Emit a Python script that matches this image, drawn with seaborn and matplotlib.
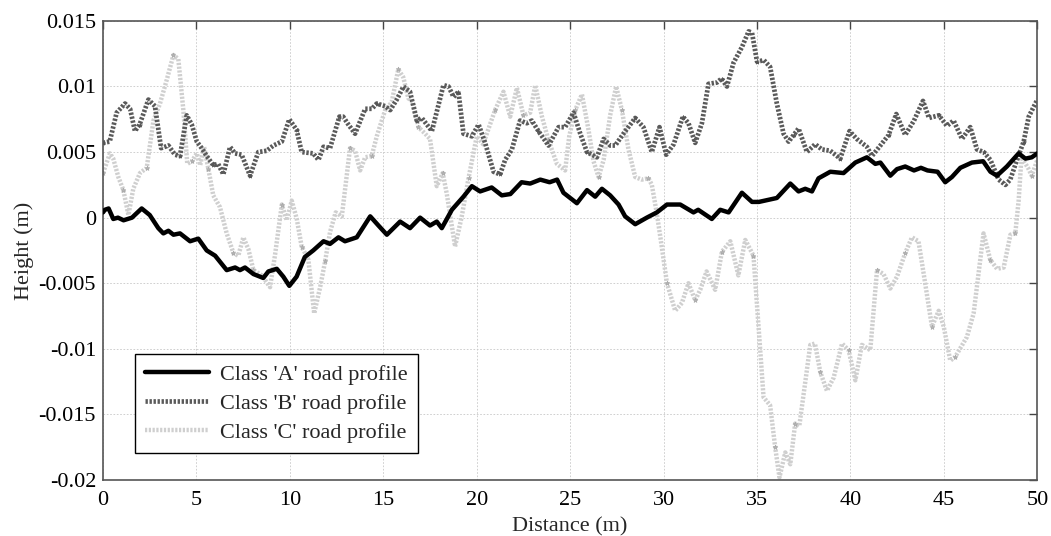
import numpy as np
import pandas as pd
import seaborn as sns
from matplotlib import pyplot as plt
from matplotlib.ticker import FuncFormatter

# road profile traces (distance in m, height in m)
a_x = [0, 0.1, 0.3, 0.55, 0.8, 1.1, 1.55, 2.07, 2.5, 2.96,
       3.23, 3.5, 3.77, 4.12, 4.66, 5.1, 5.55, 6.0, 6.62, 7.07,
       7.33, 7.6, 8.05, 8.58, 8.85, 9.3, 9.65, 9.97, 10.36, 10.8,
       11.25, 11.8, 12.15, 12.6, 12.95, 13.58, 14.3, 14.74, 15.19, 15.9,
       16.43, 16.97, 17.5, 17.86, 18.13, 18.67, 19.29, 19.74, 20.18, 20.8,
       21.34, 21.8, 22.4, 22.86, 23.4, 23.9, 24.3, 24.64, 25.0, 25.36,
       25.9, 26.34, 26.7, 27.14, 27.59, 27.94, 28.48, 29.1, 29.64, 30.18,
       30.89, 31.6, 31.85, 32.58, 33.03, 33.48, 34.19, 34.73, 35.1, 36.06,
       36.78, 37.22, 37.58, 37.94, 38.29, 38.92, 39.63, 40.26, 40.88, 41.33,
       41.6, 42.13, 42.49, 42.93, 43.4, 43.77, 44.12, 44.66, 45.07, 45.43,
       45.88, 46.5, 47.1, 47.49, 47.84, 48.37, 49.0, 49.36, 49.7, 50.0]
a_y = [0.0004, 0.0006, 0.0007, -0.0001, 0.0000, -0.0002, 0.0000, 0.0007, 0.0002, -0.0008,
       -0.0012, -0.0010, -0.0013, -0.0012, -0.0018, -0.0016, -0.0025, -0.0029, -0.0040, -0.0038,
       -0.0040, -0.0038, -0.0043, -0.0046, -0.0041, -0.0039, -0.0045, -0.0052, -0.0045, -0.0030,
       -0.0025, -0.0018, -0.0020, -0.0015, -0.0018, -0.0015, 0.0001, -0.0006, -0.0013, -0.0003,
       -0.0008, 0.0000, -0.0006, -0.0003, -0.0008, 0.0006, 0.0016, 0.0024, 0.0020, 0.0023,
       0.0017, 0.0018, 0.0027, 0.0026, 0.0029, 0.0027, 0.0029, 0.0019, 0.0015, 0.0011,
       0.0021, 0.0016, 0.0022, 0.0017, 0.0010, 0.0001, -0.0005, 0.0000, 0.0004, 0.0010,
       0.0010, 0.0004, 0.0006, -0.0001, 0.0006, 0.0004, 0.0019, 0.0012, 0.0012, 0.0015,
       0.0026, 0.0020, 0.0022, 0.0020, 0.0030, 0.0035, 0.0034, 0.0042, 0.0046, 0.0041,
       0.0042, 0.0032, 0.0037, 0.0039, 0.0036, 0.0038, 0.0036, 0.0035, 0.0027, 0.0031,
       0.0038, 0.0042, 0.0043, 0.0035, 0.0032, 0.0039, 0.0049, 0.0045, 0.0046, 0.0049]

b_x = [0, 0.36, 0.73, 1.18, 1.45, 1.71, 1.96, 2.43, 2.78, 3.11,
       3.5, 3.85, 4.12, 4.48, 4.75, 5.02, 5.28, 5.55, 5.9, 6.16,
       6.44, 6.8, 7.06, 7.42, 7.87, 8.31, 8.76, 9.12, 9.57, 9.97,
       10.36, 10.63, 11.25, 11.53, 11.8, 12.15, 12.65, 12.85, 13.13, 13.49,
       14.03, 14.39, 14.65, 15.1, 15.37, 15.72, 16.08, 16.43, 16.79, 17.06,
       17.6, 18.22, 18.49, 18.76, 19.02, 19.29, 19.74, 20.1, 20.45, 20.9,
       21.25, 21.52, 21.88, 22.32, 22.68, 22.95, 23.3, 23.84, 24.38, 24.73,
       25.18, 25.54, 25.9, 26.43, 26.79, 27.14, 27.41, 27.85, 28.48, 28.92,
       29.37, 29.78, 30.14, 30.54, 31.03, 31.33, 31.69, 32.05, 32.4, 32.85,
       33.1, 33.39, 33.74, 34.19, 34.55, 34.73, 35.0, 35.37, 35.7, 36.06,
       36.42, 36.69, 36.96, 37.22, 37.67, 38.11, 38.47, 38.92, 39.45, 39.95,
       40.34, 40.88, 41.15, 41.6, 42.04, 42.45, 42.93, 43.4, 43.88, 44.2,
       44.73, 45.16, 45.52, 45.97, 46.41, 46.77, 47.13, 47.49, 47.93, 48.29,
       48.55, 48.91, 49.27, 49.54, 50.0]
b_y = [0.0057, 0.0058, 0.0080, 0.0087, 0.0083, 0.0066, 0.0071, 0.0090, 0.0085, 0.0053,
       0.0055, 0.0048, 0.0047, 0.0078, 0.0071, 0.0058, 0.0053, 0.0047, 0.0040, 0.0041,
       0.0033, 0.0054, 0.0049, 0.0048, 0.0032, 0.0050, 0.0051, 0.0055, 0.0058, 0.0075,
       0.0067, 0.0050, 0.0049, 0.0044, 0.0054, 0.0053, 0.0077, 0.0077, 0.0071, 0.0064,
       0.0083, 0.0083, 0.0087, 0.0085, 0.0082, 0.0090, 0.0100, 0.0096, 0.0074, 0.0076,
       0.0066, 0.0101, 0.0100, 0.0092, 0.0096, 0.0064, 0.0062, 0.0071, 0.0057, 0.0035,
       0.0033, 0.0044, 0.0052, 0.0074, 0.0072, 0.0074, 0.0066, 0.0055, 0.0069, 0.0069,
       0.0080, 0.0064, 0.0050, 0.0046, 0.0060, 0.0055, 0.0055, 0.0064, 0.0076, 0.0069,
       0.0050, 0.0069, 0.0048, 0.0056, 0.0077, 0.0072, 0.0057, 0.0072, 0.0102, 0.0103,
       0.0106, 0.0100, 0.0118, 0.0130, 0.0142, 0.0141, 0.0119, 0.0120, 0.0115, 0.0087,
       0.0064, 0.0058, 0.0063, 0.0068, 0.0050, 0.0056, 0.0052, 0.0051, 0.0045, 0.0066,
       0.0060, 0.0054, 0.0047, 0.0055, 0.0063, 0.0079, 0.0063, 0.0074, 0.0089, 0.0076,
       0.0078, 0.0070, 0.0074, 0.0060, 0.0069, 0.0052, 0.0050, 0.0044, 0.0029, 0.0025,
       0.0029, 0.0044, 0.0058, 0.0077, 0.0090]

c_x = [0, 0.37, 0.55, 0.82, 1.09, 1.36, 1.62, 1.98, 2.34, 2.7,
       3.05, 3.41, 3.77, 4.03, 4.3, 4.51, 4.75, 5.02, 5.2, 5.41,
       5.64, 5.9, 6.26, 6.62, 6.98, 7.24, 7.51, 7.78, 8.05, 8.5,
       8.94, 9.21, 9.57, 9.83, 10.1, 10.37, 10.63, 10.99, 11.3, 11.62,
       11.89, 12.15, 12.45, 12.78, 13.22, 13.49, 13.76, 14.03, 14.38, 14.65,
       15.1, 15.45, 15.8, 16.07, 16.34, 16.6, 16.88, 17.24, 17.5, 17.86,
       18.18, 18.4, 18.84, 19.2, 19.56, 20.0, 20.34, 20.61, 20.98, 21.43,
       21.79, 22.15, 22.5, 22.86, 23.13, 23.49, 23.84, 24.29, 24.73, 24.95,
       25.27, 25.63, 25.98, 26.25, 26.52, 26.79, 27.14, 27.46, 27.77, 28.12,
       28.48, 28.83, 29.19, 29.37, 29.64, 29.9, 30.18, 30.62, 30.98, 31.33,
       31.69, 31.96, 32.3, 32.76, 33.12, 33.57, 34.0, 34.37, 34.81, 35.17,
       35.35, 35.7, 35.97, 36.2, 36.51, 36.78, 37.04, 37.26, 37.85, 38.1,
       38.39, 38.74, 39.1, 39.55, 39.9, 40.26, 40.61, 41.06, 41.42, 41.77,
       42.13, 42.49, 42.93, 43.29, 43.64, 43.92, 44.36, 44.72, 44.99, 45.34,
       45.61, 46.23, 46.59, 47.12, 47.48, 47.84, 48.2, 48.56, 48.82, 49.0,
       49.15, 49.5, 49.7, 50.0]
c_y = [0.0034, 0.0049, 0.0045, 0.0031, 0.0021, 0.0002, 0.0022, 0.0034, 0.0038, 0.0074,
       0.0087, 0.0105, 0.0124, 0.0121, 0.0082, 0.0041, 0.0043, 0.0049, 0.0040, 0.0054,
       0.0037, 0.0017, 0.0008, -0.0012, -0.0027, -0.0029, -0.0015, -0.0024, -0.0040, -0.0044,
       -0.0053, -0.0028, 0.0010, -0.0002, 0.0013, -0.0001, -0.0022, -0.0032, -0.0073, -0.0053,
       -0.0033, -0.0011, 0.0004, 0.0001, 0.0053, 0.0051, 0.0036, 0.0046, 0.0047, 0.0062,
       0.0082, 0.0088, 0.0113, 0.0107, 0.0091, 0.0088, 0.0069, 0.0064, 0.0060, 0.0024,
       0.0034, 0.0018, -0.0022, 0.0001, 0.0030, 0.0062, 0.0056, 0.0067, 0.0082, 0.0096,
       0.0077, 0.0099, 0.0078, 0.0080, 0.0101, 0.0077, 0.0059, 0.0041, 0.0036, 0.0062,
       0.0082, 0.0094, 0.0067, 0.0043, 0.0031, 0.0044, 0.0078, 0.0100, 0.0082, 0.0052,
       0.0031, 0.0029, 0.0030, 0.0025, 0.0003, -0.0022, -0.0050, -0.0071, -0.0065, -0.0050,
       -0.0063, -0.0055, -0.0041, -0.0055, -0.0026, -0.0018, -0.0044, -0.0017, -0.0029, -0.0101,
       -0.0137, -0.0143, -0.0175, -0.0198, -0.0179, -0.0188, -0.0157, -0.0159, -0.0097, -0.0096,
       -0.0118, -0.0132, -0.0122, -0.0096, -0.0101, -0.0124, -0.0097, -0.0101, -0.0040, -0.0043,
       -0.0054, -0.0045, -0.0027, -0.0015, -0.0018, -0.0043, -0.0083, -0.0071, -0.0083, -0.0109,
       -0.0106, -0.0091, -0.0073, -0.0012, -0.0032, -0.0039, -0.0038, -0.0013, -0.0012, 0.0013,
       0.0046, 0.0038, 0.0032, 0.0044]

labels = ["Class 'A' road profile", "Class 'B' road profile", "Class 'C' road profile"]
y_ticks = [0.015, 0.01, 0.005, 0, -0.005, -0.01, -0.015, -0.02]
x_ticks = [0, 5, 10, 15, 20, 25, 30, 35, 40, 45, 50]

sns.set_theme(style="white")
plt.rcParams['font.family'] = ['Liberation Serif', 'DejaVu Serif']
plt.rcParams['axes.unicode_minus'] = False

fig = plt.figure(figsize=(10.51, 5.36), dpi=100)
ax = fig.add_axes([0.098, 0.1045, 0.889, 0.8565])

df_a = pd.DataFrame({"x": a_x, "y": a_y})
df_b = pd.DataFrame({"x": b_x, "y": b_y})
df_c = pd.DataFrame({"x": c_x, "y": c_y})

sns.lineplot(data=df_c, x="x", y="y", ax=ax, estimator=None, sort=False,
             color="#cfcfcf", lw=3.2, linestyle=(0, (0.5, 0.35)), label=labels[2],
             marker="*", markersize=3.5, markevery=4, markeredgewidth=0.5,
             markeredgecolor="#a8a8a8", markerfacecolor="#b5b5b5", zorder=2)
sns.lineplot(data=df_b, x="x", y="y", ax=ax, estimator=None, sort=False,
             color="#5a5a5a", lw=3.4, linestyle=(0, (0.5, 0.35)), label=labels[1],
             marker="*", markersize=3, markevery=6, markeredgewidth=0.5,
             markeredgecolor="#555555", markerfacecolor="#555555", zorder=3)
sns.lineplot(data=df_a, x="x", y="y", ax=ax, estimator=None, sort=False,
             color="black", lw=3.2, label=labels[0], zorder=4)

ax.set_xlim(0, 50)
ax.set_ylim(-0.02, 0.015)
ax.set_xticks(x_ticks)
ax.set_yticks(y_ticks)
ax.yaxis.set_major_formatter(FuncFormatter(lambda v, p: f"{v:g}"))
ax.xaxis.set_major_formatter(FuncFormatter(lambda v, p: f"{v:g}"))
ax.tick_params(direction="in", length=6, width=1, color="#444444",
               top=True, right=True, labelsize=16, labelcolor="black")
ax.tick_params(axis="x", pad=8)
ax.tick_params(axis="y", pad=5)
ax.grid(True, color="#c8c8c8", lw=0.6, linestyle=(0, (2, 2)))
for s in ax.spines.values():
    s.set_color("#555555")
    s.set_linewidth(1.2)

ax.set_xlabel("Distance (m)", fontsize=16, labelpad=5)
ax.set_ylabel("Height (m)", fontsize=16, labelpad=3)

handles, labs = ax.get_legend_handles_labels()
order = [labs.index(l) for l in labels]
leg = ax.legend([handles[i] for i in order], labels, loc="lower left",
                bbox_to_anchor=(0.034, 0.059), borderaxespad=0, fontsize=16,
                frameon=True, fancybox=False, framealpha=1, edgecolor="black",
                handlelength=2.9, labelspacing=0.38, borderpad=0.45, handletextpad=0.5)
leg.get_frame().set_linewidth(1.0)
for ln in leg.get_lines():
    ln.set_marker("None")

fig.savefig("out.png", dpi=100, facecolor="white")
